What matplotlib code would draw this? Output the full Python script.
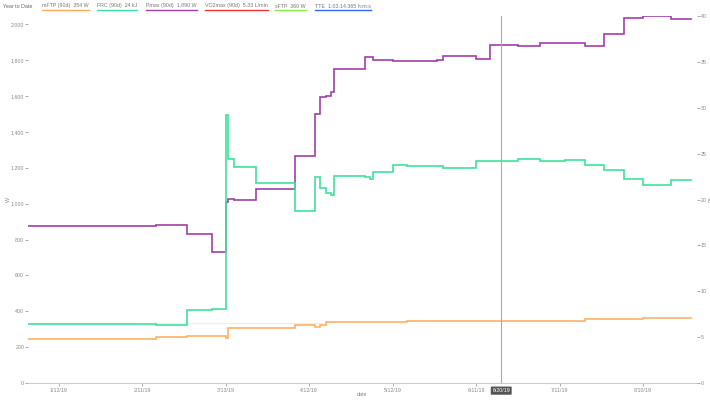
import matplotlib
matplotlib.use("Agg")
import matplotlib.pyplot as plt
import matplotlib.dates as mdates
from matplotlib.lines import Line2D
import numpy as np

plt.rcParams['font.family'] = ['Liberation Sans', 'DejaVu Sans']

# ---------------- data ----------------
pmax_dates = ["2019-01-01", "2019-02-03", "2019-02-16", "2019-02-27", "2019-03-08",
              "2019-03-13", "2019-03-14", "2019-03-16", "2019-03-24", "2019-04-07",
              "2019-04-14", "2019-04-16", "2019-04-18", "2019-04-20", "2019-04-21",
              "2019-05-02", "2019-05-05", "2019-05-12", "2019-05-28", "2019-05-30",
              "2019-06-11", "2019-06-16", "2019-06-26", "2019-07-04", "2019-07-20",
              "2019-07-27", "2019-08-03", "2019-08-10", "2019-08-20"]
pmax_w = [876, 878, 881, 830, 730,
          1010, 1027, 1020, 1083, 1265,
          1499, 1592, 1599, 1623, 1751,
          1815, 1801, 1796, 1803, 1824,
          1807, 1885, 1881, 1894, 1881,
          1944, 2035, 2046, 2028]

frc_dates = ["2019-01-01", "2019-02-03", "2019-02-16", "2019-02-27", "2019-03-08",
             "2019-03-13", "2019-03-14", "2019-03-16", "2019-03-24", "2019-04-07",
             "2019-04-14", "2019-04-16", "2019-04-18", "2019-04-20", "2019-04-21",
             "2019-05-02", "2019-05-04", "2019-05-05", "2019-05-12", "2019-05-17",
             "2019-05-30", "2019-06-11", "2019-06-26", "2019-07-04", "2019-07-13",
             "2019-07-20", "2019-07-27", "2019-08-03", "2019-08-10", "2019-08-20"]
frc_kj = [6.46, 6.43, 6.32, 7.92, 8.1,
          29.2, 24.4, 23.5, 21.8, 18.7,
          22.4, 21.3, 20.7, 20.5, 22.6,
          22.45, 22.2, 23.0, 23.8, 23.65,
          23.4, 24.2, 24.4, 24.25, 24.3,
          23.8, 23.2, 22.2, 21.6, 22.1]

mftp_dates = ["2019-01-01", "2019-02-03", "2019-02-16", "2019-02-27", "2019-03-13",
              "2019-03-14", "2019-04-07", "2019-04-14", "2019-04-16", "2019-04-18",
              "2019-05-17", "2019-07-20", "2019-08-10"]
mftp_w = [245, 246, 255, 264, 249,
          305, 321, 310, 321, 340,
          348, 355, 360]

sftp_dates = ["2019-01-01", "2019-04-17"]
sftp_w = [335, 335]

end_date = "2019-08-27"

xtick_dates = ["2019-01-12", "2019-02-11", "2019-03-13", "2019-04-12",
               "2019-05-12", "2019-06-11", "2019-07-11", "2019-08-10"]
xtick_labels = ["1/12/19", "2/11/19", "3/13/19", "4/12/19",
                "5/12/19", "6/11/19", "7/11/19", "8/10/19"]
left_ticks = [0, 200, 400, 600, 800, 1000, 1200, 1400, 1600, 1800, 2000]
right_ticks = [0, 5, 10, 15, 20, 25, 30, 35, 40]

legend_labels = ["mFTP (90d)  354 W", "FRC (90d)  24 kJ", "Pmax (90d)  1,890 W",
                 "VO2max (90d)  5.33 L/min", "sFTP  360 W", "TTE  1:03:14.365 h:m:s"]
legend_colors = ["#ffaa55", "#3ee39a", "#a23ea8", "#ee3333", "#88ee44", "#3366ee"]
legend_x_px = [42, 97, 146, 205, 275, 315]

cursor_date = "2019-06-20"
cursor_label = "6/20/19"

# ---------------- helpers ----------------
def to_num(ds):
    return mdates.date2num(np.array(ds, dtype="datetime64[D]"))

def step_xy(dates, vals):
    x = to_num(list(dates) + [end_date])
    y = list(vals) + [vals[-1]]
    return x, y

W, H = 710, 403
fig = plt.figure(figsize=(W / 100, H / 100), dpi=100)
ax = fig.add_axes([28 / W, 1 - 383 / H, (697 - 28) / W, (383 - 16) / H])
ax2 = ax.twinx()

fs = 3.8
gray = "#888888"

# lines
ax.plot(to_num(sftp_dates), sftp_w, color="#aaee88", lw=0.8, alpha=0.35, drawstyle="steps-post")
x, y = step_xy(mftp_dates, mftp_w)
ax.plot(x, y, color="#ffb066", lw=1.2, drawstyle="steps-post", solid_joinstyle="miter")
x, y = step_xy(pmax_dates, pmax_w)
ax.plot(x, y, color="#a23ea8", lw=1.2, drawstyle="steps-post", solid_joinstyle="miter")
x, y = step_xy(frc_dates, frc_kj)
ax2.plot(x, y, color="#3ee39a", lw=1.2, drawstyle="steps-post", solid_joinstyle="miter")

xmin = mdates.date2num(np.datetime64("2019-01-01"))
xmax = mdates.date2num(np.datetime64("2019-08-29T08:00"))
ax.set_xlim(xmin, xmax)
ax.set_ylim(0, max(pmax_w))
ax2.set_ylim(0, 40)

for a in (ax, ax2):
    for s in a.spines.values():
        s.set_visible(False)
ax.spines["bottom"].set_visible(True)
ax.spines["bottom"].set_color("#cccccc")
ax.spines["bottom"].set_linewidth(0.8)

ax.set_xticks(to_num(xtick_dates))
ax.set_xticklabels(xtick_labels)
ax.set_yticks(left_ticks)
ax.set_yticklabels([f"{v:,}" for v in left_ticks])
ax2.set_yticks(right_ticks)
ax2.set_yticklabels([str(v) for v in right_ticks])

ax.tick_params(axis="x", labelsize=fs, colors=gray, length=2, width=0.5, pad=1.5)
ax.tick_params(axis="y", labelsize=fs, colors=gray, length=2, width=0.5, pad=0.8)
ax2.tick_params(axis="y", labelsize=fs, colors=gray, length=2, width=0.5, pad=0.8)

fig.text(8 / W, 1 - 200 / H, "W", fontsize=fs, color=gray, rotation=90, ha="center", va="center")
fig.text(708.3 / W, 1 - 200 / H, "kJ", fontsize=fs - 0.4, color=gray, rotation=270, ha="center", va="center")
fig.text(362 / W, 1 - 395 / H, "date", fontsize=fs, color=gray, ha="center", va="center")

# cursor
cx = mdates.date2num(np.datetime64(cursor_date))
ax.axvline(cx, ymin=0, ymax=1.0, color="#aaaaaa", lw=0.8)
ax.annotate(cursor_label, xy=(cx, 0), xycoords=("data", "axes fraction"),
            xytext=(0, -5.5), textcoords="offset points", ha="center", va="center",
            fontsize=fs, color="white",
            bbox=dict(boxstyle="round,pad=0.3,rounding_size=0.15", fc="#555555", ec="none"))

# legend row
fig.text(3 / W, 1 - 6 / H, "Year to Date", fontsize=fs, color="#666666", ha="left", va="center")
renderer = fig.canvas.get_renderer()
for lx, lab, col in zip(legend_x_px, legend_labels, legend_colors):
    t = fig.text(lx / W, 1 - 6 / H, lab, fontsize=fs, color="#777777", ha="left", va="center")
    bb = t.get_window_extent(renderer=renderer)
    fig.add_artist(Line2D([bb.x0 / W, bb.x1 / W], [1 - 9.8 / H, 1 - 9.8 / H],
                          color=col, lw=1.0, transform=fig.transFigure))

fig.savefig("out.png", dpi=100)
